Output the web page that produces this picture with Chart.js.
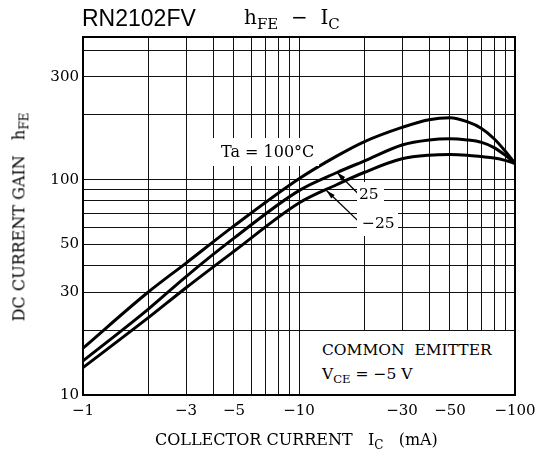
<!DOCTYPE html>
<html>
<head>
<meta charset="utf-8">
<script src="https://cdn.jsdelivr.net/npm/chart.js@4"></script>
<style>
  body { margin: 0; background: #fff; }
  #wrap { position: relative; width: 543px; height: 455px; background: #fff; }
  #wrap canvas { position: absolute; left: 0; top: 0; }
  .txt { position: absolute; font-family: 'DejaVu Serif', serif; color: #000; white-space: nowrap; line-height: 1; }
  .box { position: absolute; background: #fff; }
  sub { font-size: 75%; vertical-align: -0.35em; }
</style>
</head>
<body>
<div id="wrap">
  <canvas id="hfeChart" width="543" height="455"></canvas>

  <div class="txt" style="left:82px; top:7px; font-family:'Liberation Sans', Arial, sans-serif; font-size:23px;">RN2102FV</div>
  <div class="txt" style="left:244px; top:7px; font-size:20px;">h<sub>FE</sub> &nbsp;&minus;&nbsp; I<sub>C</sub></div>

  <div class="box" style="left:213px; top:138px; width:106px; height:28px;"></div>
  <div class="txt" style="left:221px; top:144px; font-size:16px;">Ta = 100°C</div>

  <div class="box" style="left:357px; top:182px; width:27px; height:26px;"></div>
  <div class="box" style="left:357px; top:208px; width:41px; height:28px;"></div>
  <div class="txt" style="left:359px; top:187px; font-size:15.5px;">25</div>
  <div class="txt" style="left:362px; top:216px; font-size:15.5px;">&minus;25</div>

  <div class="box" style="left:300px; top:331px; width:214px; height:63px;"></div>
  <div class="txt" style="left:322px; top:343px; font-size:15.5px;">COMMON&nbsp; EMITTER</div>
  <div class="txt" style="left:322px; top:367px; font-size:15.5px;">V<sub>CE</sub> = &minus;5 V</div>

  <div class="txt" style="left:155px; top:432px; font-size:16px;">COLLECTOR CURRENT &nbsp; I<sub>C</sub> &nbsp; (mA)</div>
  <div class="txt" style="left:21px; top:217px; font-size:16px; transform:translate(-50%,-50%) rotate(-90deg);">DC CURRENT GAIN &nbsp; h<sub>FE</sub></div>
</div>

<script>
// Kollektorstrom |Ic| in mA
const currents = [1, 2, 3, 5, 10, 15, 20, 30, 40, 50, 60, 70, 80, 90, 100];
// hFE bei Ta = 100, 25, -25 °C
const hfe100 = [16.5, 30, 41, 61, 101, 129, 150, 175, 190, 194, 186, 173, 155, 136, 119];
const hfe25 = [14.4, 25, 35.5, 53.5, 89, 108, 122, 145, 153, 155, 153, 149, 141, 130, 119];
const hfeMinus25 = [13.4, 22.8, 31.5, 46.5, 78, 95, 108, 125, 130, 131, 130, 128, 126, 123, 119];

// Gitterlinien und Beschriftungen
const xGrid = [1, 2, 3, 4, 5, 6, 7, 8, 9, 10, 20, 30, 40, 50, 60, 70, 80, 90, 100];
const xLabels = [1, 3, 5, 10, 30, 50, 100];
const yGrid = [10, 20, 30, 40, 50, 60, 70, 80, 90, 100, 200, 300, 400];
const yLabels = [10, 30, 50, 100, 300];

// Pfeile von den Beschriftungen zu den Kurven (Datenkoordinaten)
const arrows = [
    { from: [18.8, 86], to: [15, 108] },
    { from: [19.2, 63], to: [13.4, 89] },
];

function toPoints(values) {
    return currents.map((c, i) => ({ x: c, y: values[i] }));
}

function curve(values) {
    return {
        data: toPoints(values),
        borderColor: '#000',
        borderWidth: 3,
        pointRadius: 0,
        cubicInterpolationMode: 'monotone',
        fill: false,
    };
}

const framePlugin = {
    id: 'frame',
    beforeDatasetsDraw(chart) {
        const a = chart.chartArea;
        const ctx = chart.ctx;
        ctx.save();
        ctx.strokeStyle = '#000';
        ctx.lineWidth = 2;
        ctx.strokeRect(a.left, a.top, a.right - a.left, a.bottom - a.top);
        ctx.restore();
    },
};

const arrowPlugin = {
    id: 'arrows',
    afterDatasetsDraw(chart) {
        const xs = chart.scales.x;
        const ys = chart.scales.y;
        const ctx = chart.ctx;
        ctx.save();
        ctx.strokeStyle = '#000';
        ctx.fillStyle = '#000';
        ctx.lineWidth = 1.3;
        arrows.forEach(a => {
            const x1 = xs.getPixelForValue(a.from[0]);
            const y1 = ys.getPixelForValue(a.from[1]);
            const x2 = xs.getPixelForValue(a.to[0]);
            const y2 = ys.getPixelForValue(a.to[1]);
            const ang = Math.atan2(y2 - y1, x2 - x1);
            ctx.beginPath();
            ctx.moveTo(x1, y1);
            ctx.lineTo(x2, y2);
            ctx.stroke();
            ctx.beginPath();
            ctx.moveTo(x2, y2);
            ctx.lineTo(x2 - 9 * Math.cos(ang) + 2.5 * Math.sin(ang), y2 - 9 * Math.sin(ang) - 2.5 * Math.cos(ang));
            ctx.lineTo(x2 - 9 * Math.cos(ang) - 2.5 * Math.sin(ang), y2 - 9 * Math.sin(ang) + 2.5 * Math.cos(ang));
            ctx.closePath();
            ctx.fill();
        });
        ctx.restore();
    },
};

const tickFont = { family: "'DejaVu Serif', serif", size: 15 };

new Chart(document.getElementById('hfeChart').getContext('2d'), {
    type: 'line',
    data: {
        datasets: [curve(hfe100), curve(hfe25), curve(hfeMinus25)],
    },
    options: {
        responsive: false,
        animation: false,
        events: [],
        layout: { padding: { top: 37, right: 28, left: 0, bottom: 0 } },
        plugins: {
            legend: { display: false },
            tooltip: { enabled: false },
        },
        scales: {
            x: {
                type: 'logarithmic',
                min: 1,
                max: 100,
                afterBuildTicks: axis => { axis.ticks = xGrid.map(v => ({ value: v })); },
                afterFit: axis => { axis.height = 60; },
                grid: { color: '#111', lineWidth: 1, drawTicks: false },
                border: { display: false },
                ticks: {
                    autoSkip: false,
                    maxRotation: 0,
                    padding: 7,
                    color: '#000',
                    font: tickFont,
                    callback: v => xLabels.includes(v) ? '\u2212' + v : '',
                },
            },
            y: {
                type: 'logarithmic',
                min: 10,
                max: 460,
                afterBuildTicks: axis => { axis.ticks = yGrid.map(v => ({ value: v })); },
                afterFit: axis => { axis.width = 83; },
                grid: { color: '#111', lineWidth: 1, drawTicks: false },
                border: { display: false },
                ticks: {
                    autoSkip: false,
                    padding: 4,
                    color: '#000',
                    font: tickFont,
                    callback: v => yLabels.includes(v) ? String(v) : '',
                },
            },
        },
    },
    plugins: [framePlugin, arrowPlugin],
});
</script>
</body>
</html>
